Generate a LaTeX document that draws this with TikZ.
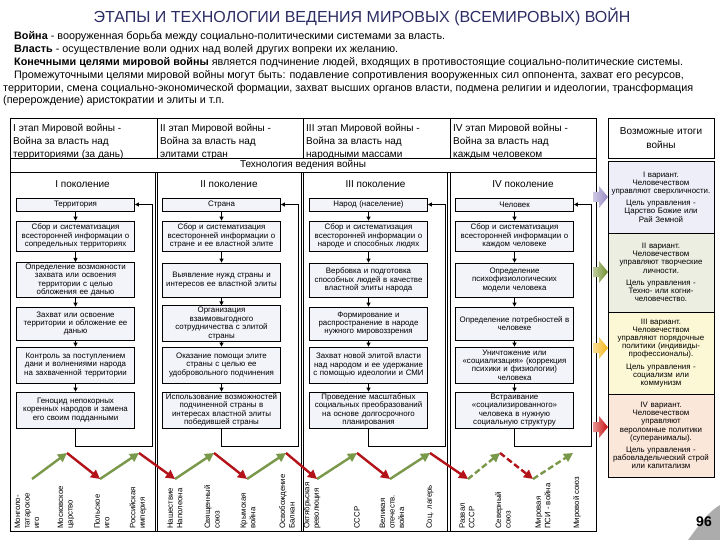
\documentclass[tikz,border=0pt]{standalone}
\usepackage{fontspec}
\setmainfont{Liberation Sans}
\usetikzlibrary{positioning, arrows.meta, calc}

\definecolor{titleblue}{RGB}{44,44,100}
\definecolor{boxfill}{RGB}{243,243,250}
\definecolor{varone}{RGB}{238,238,248}
\definecolor{vartwo}{RGB}{236,238,226}
\definecolor{varthree}{RGB}{252,248,214}
\definecolor{varfour}{RGB}{251,230,218}
\definecolor{arrone}{RGB}{150,136,196}
\definecolor{arrtwo}{RGB}{112,142,44}
\definecolor{arrthree}{RGB}{244,182,24}
\definecolor{arrfour}{RGB}{200,16,16}
\definecolor{upgreen}{RGB}{122,152,74}
\definecolor{downred}{RGB}{178,18,24}

\begin{document}
\begin{tikzpicture}[x=1pt, y=-1pt,
  font=\fontsize{9}{11}\selectfont,
  frame/.style={line width=0.8pt},
  intro/.style={anchor=west, inner sep=0pt, font=\fontsize{10.8}{12}\selectfont},
  stagetxt/.style={anchor=north west, inner sep=0pt, align=left,
    font=\fontsize{10}{13}\selectfont},
  gen/.style={inner sep=0pt, font=\fontsize{10}{12}\selectfont},
  stepbox/.style={draw, fill=boxfill, line width=0.8pt, text width=115,
    align=center, inner sep=1.5pt, font=\fontsize{7.9}{8.4}\selectfont},
  variant/.style={draw, line width=0.8pt, text width=103, align=center,
    inner sep=1.5pt, font=\fontsize{7.9}{8.2}\selectfont},
  flow/.style={-{Triangle[length=4pt,width=4pt]}, line width=1pt},
  rise/.style={-{Triangle[length=9pt,width=9pt]}, line width=2.4pt, upgreen},
  fall/.style={-{Triangle[length=9pt,width=9pt]}, line width=2.4pt, downred},
  event/.style={rotate=90, anchor=west, align=left, inner sep=0pt,
    font=\fontsize{7.8}{9.5}\selectfont},
]
  \useasboundingbox (0,0) rectangle (720,540);

  % Title and definitions
  \node[font=\fontsize{16}{18}\selectfont, titleblue] (title) at (362,17)
    {ЭТАПЫ И ТЕХНОЛОГИИ ВЕДЕНИЯ МИРОВЫХ (ВСЕМИРОВЫХ) ВОЙН};
  \node[intro] (def1) at (14,37) {\textbf{Война} - вооруженная борьба между социально-политическими системами за власть.};
  \node[intro] (def2) at (14,50) {\textbf{Власть} - осуществление воли одних над волей других  вопреки их желанию.};
  \node[intro] (def3) at (14,63) {\textbf{Конечными целями мировой войны} является подчинение людей, входящих в противостоящие социально-политические системы.};
  \node[intro] (def4) at (14,76) {Промежуточными целями мировой войны могут быть: подавление сопротивления вооруженных сил оппонента, захват его  ресурсов,};
  \node[intro] (def5) at (3,89) {территории, смена социально-экономической формации, захват высших органов власти, подмена религии и идеологии, трансформация};
  \node[intro] (def6) at (3,101) {(перерождение) аристократии и элиты и т.п.};

  % Table frame
  \draw[frame] (10,118) rectangle (596,531);
  \draw[frame] (10,158) -- (596,158);
  \draw[frame] (10,172) -- (596,172);
  \foreach \x in {157,303,450}
    \draw[frame] (\x,118) -- (\x,158);
  \foreach \x in {155,301,447.5} {
    \draw[frame] (\x,172) -- (\x,531);
    \draw[frame] (\x+2.5,172) -- (\x+2.5,531);
  }

  % Stages
  \node[stagetxt] (st1) at (13,123.5) {I этап Мировой войны -\\Война за власть над\\территориями (за дань)};
  \node[stagetxt] (st2) at (160,123.5) {II этап Мировой войны -\\Война за власть над\\ элитами стран};
  \node[stagetxt] (st3) at (306,123.5) {III этап Мировой войны -\\Война за власть над\\народными массами};
  \node[stagetxt] (st4) at (453,123.5) {IV этап Мировой войны -\\Война за власть над\\каждым человеком};
  \node[gen] (tech) at (303,165) {Технология ведения войны};

  % Generations
  \node[gen] (g1) at (82.5,184) {I поколение};
  \node[gen] (g2) at (229,184) {II поколение};
  \node[gen] (g3) at (375.5,184) {III поколение};
  \node[gen] (g4) at (523,184) {IV поколение};

  % I generation
  \node[stepbox, minimum height=13] (b11) at (75.5,204.5) {Территория};
  \node[stepbox, minimum height=30] (b12) at (75.5,236) {Сбор и систематизация\\всесторонней информации о\\сопредельных территориях};
  \node[stepbox, minimum height=34] (b13) at (75.5,280) {Определение возможности\\захвата или освоения\\территории с целью\\обложения ее данью};
  \node[stepbox, minimum height=33] (b14) at (75.5,323.5) {Захват или освоение\\территории и обложение ее\\данью};
  \node[stepbox, minimum height=36] (b15) at (75.5,365) {Контроль за поступлением\\дани и волнениями народа\\на захваченной территории};
  \node[stepbox, minimum height=36] (b16) at (75.5,410) {Геноцид непокорных\\коренных народов и замена\\его своим подданными};

  % II generation
  \node[stepbox, minimum height=13] (b21) at (221.5,204.5) {Страна};
  \node[stepbox, minimum height=30] (b22) at (221.5,236) {Сбор и систематизация\\всесторонней информации о\\стране и ее властной элите};
  \node[stepbox, minimum height=34] (b23) at (221.5,280) {Выявление нужд страны и\\интересов ее властной элиты};
  \node[stepbox, minimum height=33] (b24) at (221.5,323.5) {Организация\\взаимовыгодного\\сотрудничества с элитой\\страны};
  \node[stepbox, minimum height=36] (b25) at (221.5,365) {Оказание помощи элите\\страны с целью ее\\удобровольного подчинения};
  \node[stepbox, minimum height=36] (b26) at (221.5,410) {Использование возможностей\\подчиненной страны в\\интересах властной элиты\\победившей страны};

  % III generation
  \node[stepbox, minimum height=13] (b31) at (368.5,204.5) {Народ (население)};
  \node[stepbox, minimum height=30] (b32) at (368.5,236) {Сбор и систематизация\\всесторонней информации о\\народе и способных людях};
  \node[stepbox, minimum height=34] (b33) at (368.5,280) {Вербовка и подготовка\\способных людей в качестве\\властной элиты народа};
  \node[stepbox, minimum height=33] (b34) at (368.5,323.5) {Формирование и\\распространение в народе\\нужного мировоззрения};
  \node[stepbox, minimum height=36] (b35) at (368.5,365) {Захват новой элитой власти\\над народом и ее удержание\\с помощью идеологии и СМИ};
  \node[stepbox, minimum height=36] (b36) at (368.5,410) {Проведение масштабных\\социальных преобразований\\на основе долгосрочного\\планирования};

  % IV generation
  \node[stepbox, minimum height=13] (b41) at (514.5,204.5) {Человек};
  \node[stepbox, minimum height=30] (b42) at (514.5,236) {Сбор и систематизация\\всесторонней информации о\\каждом человеке};
  \node[stepbox, minimum height=34] (b43) at (514.5,280) {Определение\\психофизиологических\\модели человека};
  \node[stepbox, minimum height=33] (b44) at (514.5,323.5) {Определение потребностей в\\человеке};
  \node[stepbox, minimum height=36] (b45) at (514.5,365) {Уничтожение или\\«социализация» (коррекция\\психики и физиологии)\\человека};
  \node[stepbox, minimum height=36] (b46) at (514.5,410) {Встраивание\\«социализированного»\\человека  в  нужную\\социальную структуру};

  % Flow inside each generation and loop back
  \foreach \c/\lx in {1/152, 2/298, 3/445, 4/591} {
    \foreach \r/\n in {1/2, 2/3, 3/4, 4/5, 5/6}
      \draw[flow] (b\c\r) -- (b\c\n);
    \coordinate (back\c) at (\lx,446);
    \draw[flow] (b\c6.south) |- (back\c) |- (b\c1.east);
  }

  % Possible outcomes
  \node[variant, minimum height=40, font=\fontsize{10}{14}\selectfont] (itog) at (661,138) {Возможные итоги\\войны};
  \node[variant, fill=varone, minimum height=72] (v1) at (661,197) {I вариант.\\Человечеством\\управляют сверхличности.\\[4pt]Цель управления -\\Царство Божие или\\Рай Земной};
  \node[variant, fill=vartwo, minimum height=79] (v2) at (661,272.5) {II вариант.\\Человечеством\\управляют творческие\\личности.\\[4pt]Цель управления -\\Техно- или когни-\\человечество.};
  \node[variant, fill=varthree, minimum height=82] (v3) at (661,353) {III вариант.\\Человечеством\\управляют  порядочные\\политики (индивиды-\\профессионалы).\\[4pt]Цель управления -\\социализм или\\коммунизм};
  \node[variant, fill=varfour, minimum height=83] (v4) at (661,435.5) {IV вариант.\\Человечеством\\управляют\\вероломные политики\\(суперанималы).\\[4pt]Цель управления -\\рабовладельческий строй\\или капитализм};

  % Block arrows into the variants
  \foreach \y/\col in {197/arrone, 272/arrtwo, 348/arrthree, 427/arrfour}
    \shade[left color=\col!45, right color=\col]
      (593,\y-5) -- (599,\y-5) -- (599,\y-11) -- (608,\y) -- (599,\y+11)
      -- (599,\y+5) -- (593,\y+5) -- cycle;

  % Timeline of wars
  \foreach \i/\x/\y in {1/32/479, 2/67/453, 3/100/479, 4/139/453, 5/175/479,
      6/214/453, 7/247/479, 8/286/453, 9/317/479, 10/357/453, 11/390/479,
      12/430/453, 13/468/479, 14/500/453, 15/533/479, 16/573/453}
    \coordinate (p\i) at (\x,\y);
  \foreach \a/\b in {1/2, 3/4, 5/6, 7/8, 9/10, 11/12}
    \draw[rise] (p\a) -- (p\b);
  \foreach \a/\b in {2/3, 4/5, 6/7, 8/9, 10/11, 12/13}
    \draw[fall] (p\a) -- (p\b);
  \draw[rise, dash pattern=on 6pt off 3pt] (p13) -- (p14);
  \draw[fall, dash pattern=on 6pt off 3pt] (p14) -- (p15);
  \draw[rise, dash pattern=on 6pt off 3pt] (p15) -- (p16);

  \foreach \i/\x/\txt in {1/27/{Монголо-\\татарское\\иго}, 2/66/{Московское\\царство},
      3/102/{Польское\\иго}, 4/138/{Российская\\империя}, 5/175/{Нашествие\\Наполеона},
      6/212/{Священный\\союз}, 7/248/{Крымская\\война}, 8/287/{Освобождение\\Балкан},
      9/312/{Октябрьская\\революция}, 10/357/{СССР}, 11/392/{Великая\\отечеств.\\война},
      12/430/{Соц. лагерь}, 13/467/{Развал\\СССР}, 14/503/{Северный\\союз},
      15/543/{Мировая\\ПСИ - война}, 16/577/{Мировой союз}}
    \node[event] (e\i) at (\x,529) {\txt};

  % Page number
  \fill[gray!65] (688,540) .. controls (700,524) and (708,512) .. (720,505) -- (720,540) -- cycle;
  \node[font=\bfseries\fontsize{14}{14}\selectfont] (pnum) at (704,522) {96};
\end{tikzpicture}
\end{document}
